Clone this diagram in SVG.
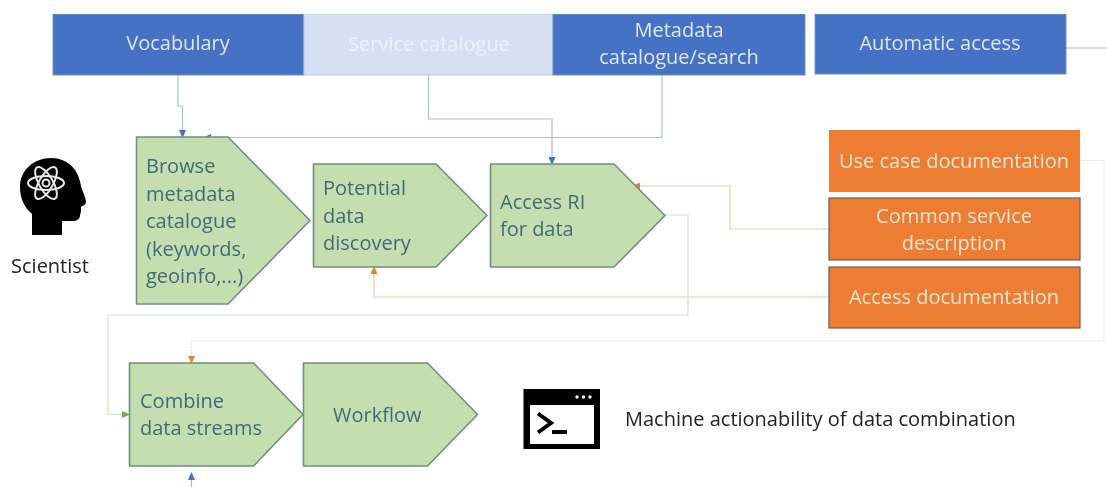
<svg xmlns="http://www.w3.org/2000/svg" width="1107" height="487" viewBox="0 0 1107 487">
<style>
text{font-family:"Open Sans","Liberation Sans",sans-serif;font-size:20px}
.blue rect{fill:#4472c4;stroke:#6f93d2;stroke-width:1}
.blue text{fill:#dfe7f5;text-anchor:middle}
.pale rect{fill:#d6e0f2;stroke:#b9c9e6;stroke-width:1}
.pale text{fill:#eef2fa;text-anchor:middle}
.or rect{fill:#ed7d31}
.or text{fill:#fbe6d6;text-anchor:middle}
.dk rect{stroke:#6e5a52;stroke-width:1.2}
.st polygon{fill:#c5deb0;stroke:#6f9080;stroke-width:1.6;stroke-linejoin:round}
.st text{fill:#3f6b7a}
.dark{fill:#222}
#connectors path{fill:none;stroke-width:1.2}
.cb{stroke:#a9bce2}
.co{stroke:#f3c6a5}
.cg{stroke:#d5e3ca}
.cd{stroke:#f0dcc8;stroke-dasharray:2 1}
</style>
<defs>
<filter id="soft" x="0" y="0" width="100%" height="100%"><feGaussianBlur stdDeviation="0.45"/></filter>
<marker id="ab" markerWidth="8" markerHeight="7" refX="7" refY="3.500" orient="auto" markerUnits="userSpaceOnUse"><path d="M0 0L8 3.500L0 7Z" fill="#4472c4"/></marker>
<marker id="ao" markerWidth="8" markerHeight="7" refX="7" refY="3.500" orient="auto" markerUnits="userSpaceOnUse"><path d="M0 0L8 3.500L0 7Z" fill="#ed7d31"/></marker>
<marker id="ag" markerWidth="8" markerHeight="7" refX="7" refY="3.500" orient="auto" markerUnits="userSpaceOnUse"><path d="M0 0L8 3.500L0 7Z" fill="#70ad47"/></marker>
</defs>
<rect width="1107" height="487" fill="#fff"/>
<g filter="url(#soft)">
<g id="connectors">
<path class="cb" d="M178 75V106H182.500V137" marker-end="url(#ab)"/>
<path class="cb" d="M428.500 75V119H552V164" marker-end="url(#ab)"/>
<path class="cb" d="M662 75V137.500H204" marker-end="url(#ab)"/>
<path class="cb" d="M1066 48H1107"/>
<path class="cb" d="M191.500 487V473" marker-end="url(#ab)"/>
<path class="co" d="M829 229H730V186H633" marker-end="url(#ao)"/>
<path class="co" d="M829 297H374V267" marker-end="url(#ao)"/>
<path class="cd" d="M1080 160.500H1104V341H191.500V363" marker-end="url(#ao)"/>
<path class="cg" d="M665 215H688V315H108V414.500H129" marker-end="url(#ag)"/>
</g>

<g id="vocabulary" class="blue"><rect x="53" y="14" width="251" height="61"/><text x="178" y="50">Vocabulary</text></g>
<g id="service-catalogue" class="pale"><rect x="304" y="14" width="249" height="61"/><text x="429" y="51">Service catalogue</text></g>
<g id="metadata-catalogue" class="blue"><rect x="553" y="14" width="252" height="61"/><text x="679" y="37">Metadata</text><text x="679" y="64">catalogue/search</text></g>
<g id="automatic-access" class="blue"><rect x="815" y="14" width="251" height="60"/><text x="940" y="50">Automatic access</text></g>

<g id="scientist">
<path fill="#000" d="M32 235V214C24 207 20 198 20 187C20 170 34 158 51 158C68 158 79 170 81 186C82 190 86 198 86 202C86 205 82 206 81 207C81 210 81 213 80 215C80 219 77 221 72 221L62 221V235Z"/>
<g fill="none" stroke="#e8e8e8" stroke-width="2"><ellipse cx="46" cy="183" rx="18" ry="7"/><ellipse cx="46" cy="183" rx="18" ry="7" transform="rotate(60 46 183)"/><ellipse cx="46" cy="183" rx="18" ry="7" transform="rotate(120 46 183)"/><circle cx="46" cy="183" r="3.500"/></g>
<text class="dark" x="50" y="273" text-anchor="middle">Scientist</text>
</g>

<g id="browse" class="st"><polygon points="136.500,137 228,137 310,220.500 228,304 136.500,304"/><text x="146" y="173">Browse</text><text x="146" y="201">metadata</text><text x="146" y="228">catalogue</text><text x="146" y="256">(keywords,</text><text x="146" y="283">geoinfo,...)</text></g>
<g id="potential" class="st"><polygon points="313.500,164 436,164 487,215.500 436,267 313.500,267"/><text x="323" y="195">Potential</text><text x="323" y="223">data</text><text x="323" y="250">discovery</text></g>
<g id="access-ri" class="st"><polygon points="490.500,164 614,164 665,215.500 614,267 490.500,267"/><text x="500" y="209">Access RI</text><text x="500" y="236">for data</text></g>

<g id="use-case" class="or"><rect x="829" y="130" width="251" height="62"/><text x="954" y="168">Use case documentation</text></g>
<g id="common-service" class="or dk"><rect x="829" y="198" width="251" height="62"/><text x="954" y="223">Common service</text><text x="954" y="250">description</text></g>
<g id="access-doc" class="or dk"><rect x="829" y="267" width="251" height="61"/><text x="954" y="304">Access documentation</text></g>

<g id="combine" class="st"><polygon points="129.500,363 253.500,363 303,414.500 253.500,466 129.500,466"/><text x="140" y="408">Combine</text><text x="140" y="435">data streams</text></g>
<g id="workflow" class="st"><polygon points="303.500,363 427.500,363 477.500,414.500 427.500,466 303.500,466"/><text x="333" y="422">Workflow</text></g>

<g id="terminal">
<rect x="523.500" y="389" width="76.500" height="60" fill="#000"/>
<rect x="530" y="405" width="64" height="39" fill="#fff"/>
<circle cx="577" cy="397" r="1.700" fill="#fff"/><circle cx="583.500" cy="397" r="1.700" fill="#fff"/><circle cx="590" cy="397" r="1.700" fill="#fff"/>
<path d="M538 413.500L551 423L538 432.500" fill="none" stroke="#000" stroke-width="4"/>
<path d="M552 432H567" stroke="#000" stroke-width="4"/>
<text class="dark" x="625" y="426">Machine actionability of data combination</text>
</g>
</g>
</svg>
